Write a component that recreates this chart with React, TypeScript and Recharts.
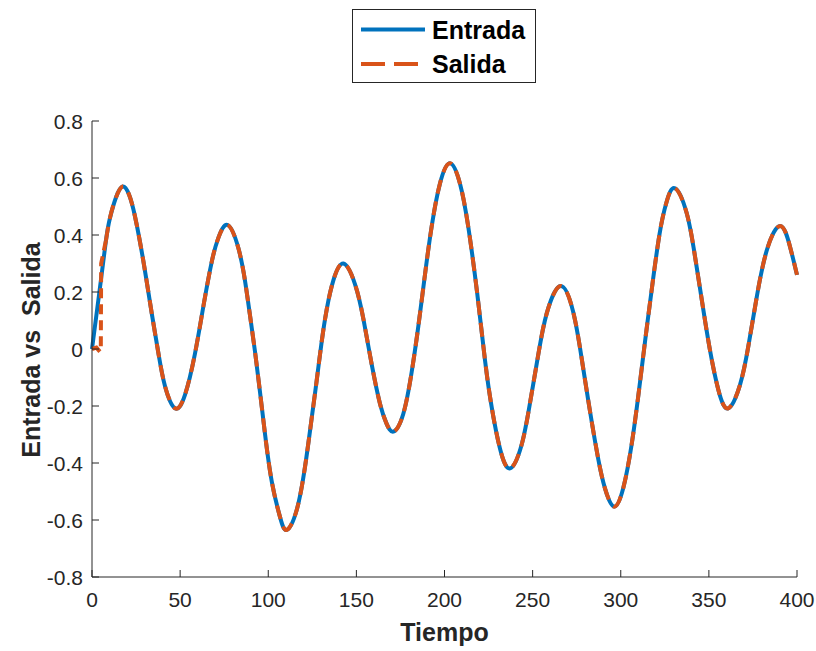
import React from 'react';
import { Line, LineChart, XAxis, YAxis } from 'recharts';

// valores
const tiempo = [
  0, 4, 7.9, 10.2, 13.5, 17.4, 21, 24.4, 29.1, 33.9,
  37.6, 41.4, 47.1, 52.8, 58.4, 63.2, 67.9, 71.7, 77, 83,
  86.8, 89.6, 92.5, 95.3, 98.2, 102, 106.7, 110.5, 116.1, 120.9,
  124.6, 127.5, 130.3, 133.2, 136.9, 142.6, 149.2, 154, 158.7, 163.4,
  167, 171, 176.6, 181.4, 185.2, 188.9, 192.7, 197.4, 203.1, 208.8,
  213.5, 218.5, 223, 226.8, 231.5, 237.2, 243.8, 248.5, 253.2, 258,
  265.9, 273.1, 277.8, 282.6, 287.3, 291.1, 296.2, 301.5, 306.2, 310,
  313.8, 317.6, 322, 326, 330.8, 337.4, 342.1, 346.8, 350.6, 355.4,
  361, 367.7, 372.4, 377.1, 382.8, 390.4, 396, 400
];
const entrada = [
  0, 0.19, 0.38, 0.46, 0.53, 0.57, 0.542, 0.465, 0.31, 0.125,
  -0.012, -0.13, -0.208, -0.16, -0.017, 0.15, 0.305, 0.39, 0.435, 0.355,
  0.24, 0.12, -0.01, -0.15, -0.3, -0.465, -0.59, -0.635, -0.566, -0.412,
  -0.245, -0.11, 0.025, 0.14, 0.24, 0.3, 0.228, 0.105, -0.054, -0.192,
  -0.26, -0.29, -0.228, -0.08, 0.082, 0.26, 0.429, 0.58, 0.652, 0.58,
  0.428, 0.198, -0.04, -0.205, -0.35, -0.419, -0.335, -0.19, -0.02, 0.125,
  0.221, 0.128, -0.032, -0.22, -0.388, -0.49, -0.553, -0.486, -0.334, -0.162,
  0.027, 0.21, 0.403, 0.516, 0.564, 0.477, 0.326, 0.14, -0.003, -0.144,
  -0.208, -0.125, 0.01, 0.18, 0.345, 0.432, 0.36, 0.26
];
// la salida arranca en cero, salta y luego sigue a la entrada
const tiempoSalidaInicio = [0, 2.5, 4.6, 5.0, 5.2, 7.9];
const salidaInicio = [0, 0.005, -0.01, 0, 0.3, 0.38];

const xTicks = [0, 50, 100, 150, 200, 250, 300, 350, 400];
const yTicks = [-0.8, -0.6, -0.4, -0.2, 0, 0.2, 0.4, 0.6, 0.8];

const AZUL = '#0072BD';
const NARANJA = '#D95319';
const EJE = '#262626';
const FUENTE = '"Liberation Sans", Arial, Helvetica, sans-serif';

// bordes del area de dibujo
const IZQ = 92;
const DER = 797;
const ARR = 121;
const ABA = 577;

const entradaData = tiempo.map((t, i) => ({ t, v: entrada[i] }));
const salidaInicioData = tiempoSalidaInicio.map((t, i) => ({ t, v: salidaInicio[i] }));
const salidaRestoData = entradaData.filter(d => d.t >= 7.9);

const BottomTick = (props: any) => {
  const { x, payload } = props;
  return (
    <g>
      <line x1={x} y1={ABA} x2={x} y2={ABA - 7} stroke={EJE} strokeWidth={1} />
      <text x={x} y={ABA + 30} textAnchor="middle" fontSize={21} fontFamily={FUENTE} fill={EJE}>
        {payload.value}
      </text>
    </g>
  );
};

const TopTick = (props: any) => {
  const { x } = props;
  return <line x1={x} y1={ARR} x2={x} y2={ARR + 7} stroke={EJE} strokeWidth={1} />;
};

const LeftTick = (props: any) => {
  const { y, payload } = props;
  return (
    <g>
      <line x1={IZQ} y1={y} x2={IZQ + 7} y2={y} stroke={EJE} strokeWidth={1} />
      <text x={IZQ - 9} y={y + 7.5} textAnchor="end" fontSize={21} fontFamily={FUENTE} fill={EJE}>
        {payload.value}
      </text>
    </g>
  );
};

const RightTick = (props: any) => {
  const { y } = props;
  return <line x1={DER} y1={y} x2={DER - 7} y2={y} stroke={EJE} strokeWidth={1} />;
};

export default function App() {
  return (
    <div style={{ position: 'absolute', left: 0, top: 0, width: 816, height: 651, background: '#fff' }}>
      <LineChart width={816} height={651} margin={{ top: ARR, right: 816 - DER, bottom: 0, left: 0 }}>
        <XAxis xAxisId="b" type="number" dataKey="t" domain={[0, 400]} ticks={xTicks} interval={0}
          height={651 - ABA} tickLine={false} axisLine={{ stroke: EJE }} tick={<BottomTick />} />
        <XAxis xAxisId="top" orientation="top" type="number" dataKey="t" domain={[0, 400]} ticks={xTicks} interval={0}
          height={0} tickLine={false} axisLine={{ stroke: EJE }} tick={<TopTick />} />
        <YAxis yAxisId="l" type="number" domain={[-0.8, 0.8]} ticks={yTicks} interval={0}
          width={IZQ} tickLine={false} axisLine={{ stroke: EJE }} tick={<LeftTick />} />
        <YAxis yAxisId="r" orientation="right" type="number" domain={[-0.8, 0.8]} ticks={yTicks} interval={0}
          width={0} tickLine={false} axisLine={{ stroke: EJE }} tick={<RightTick />} />
        <Line xAxisId="b" yAxisId="l" data={entradaData} dataKey="v" type="natural" stroke={AZUL}
          strokeWidth={4} dot={false} isAnimationActive={false} />
        <Line xAxisId="b" yAxisId="l" data={salidaInicioData} dataKey="v" type="linear" stroke={NARANJA}
          strokeWidth={4} strokeDasharray="10 6" dot={false} isAnimationActive={false} />
        <Line xAxisId="b" yAxisId="l" data={salidaRestoData} dataKey="v" type="natural" stroke={NARANJA}
          strokeWidth={4} strokeDasharray="14 8" dot={false} isAnimationActive={false} />
      </LineChart>
      <svg width={816} height={651} style={{ position: 'absolute', left: 0, top: 0, pointerEvents: 'none' }}>
        <rect x={352.5} y={9.5} width={183} height={73} fill="#fff" stroke={EJE} strokeWidth={1} />
        <line x1={361} y1={29.5} x2={425} y2={29.5} stroke={AZUL} strokeWidth={4} />
        <text x={432} y={38.5} fontSize={25} fontWeight="bold" fontFamily={FUENTE} fill="#000">Entrada</text>
        <line x1={361} y1={64} x2={425} y2={64} stroke={NARANJA} strokeWidth={4} strokeDasharray="24 9" />
        <text x={432} y={73} fontSize={25} fontWeight="bold" fontFamily={FUENTE} fill="#000">Salida</text>
        <text x={444.5} y={641} textAnchor="middle" fontSize={25} fontWeight="bold" fontFamily={FUENTE} fill={EJE}>Tiempo</text>
        <text x={40} y={350} textAnchor="middle" transform="rotate(-90 40 350)" fontSize={25} fontWeight="bold"
          fontFamily={FUENTE} fill={EJE}>{'Entrada vs\u00a0 Salida'}</text>
      </svg>
    </div>
  );
}
